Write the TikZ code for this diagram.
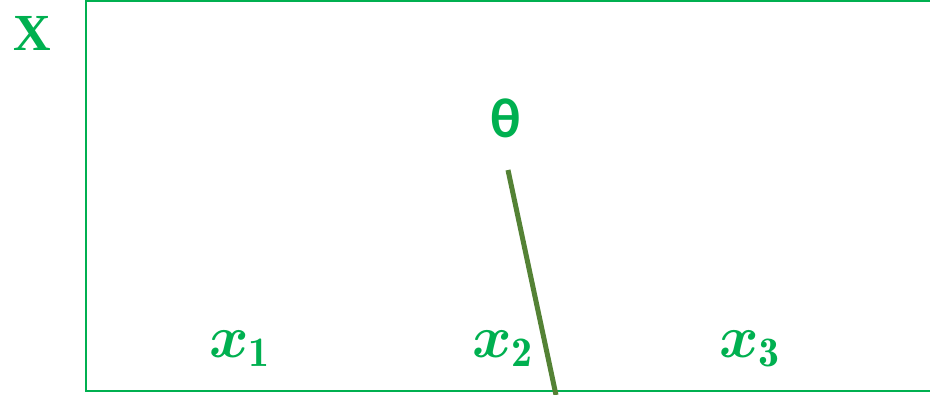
\RequirePackage{fix-cm}
\documentclass[tikz,border=0pt]{standalone}
\usepackage{amsmath,bm}
\usepackage{fontspec}
\newfontfamily\calib{Carlito}
\newfontfamily\tnr{Liberation Serif}
\definecolor{lgreen}{HTML}{00B050}
\definecolor{dgreen}{HTML}{548235}
\tikzset{
  frameline/.style={draw=lgreen, line width=2pt},
  stickline/.style={draw=dgreen, line width=5pt},
  lbl/.style={text=lgreen, inner sep=0pt},
}
\begin{document}
\begin{tikzpicture}[x=1pt,y=1pt]
\useasboundingbox (0,0) rectangle (930,-394);
\draw[frameline] (934,-1) -- (86,-1) -- (86,-391) -- (934,-391);
\coordinate (top) at (508,-170);
\coordinate (bot) at (556,-395);
\draw[stickline] (top) -- (bot);
\node[lbl] (X) at (32,-33) {\tnr\fontsize{52}{52}\selectfont\bfseries X};
\node[lbl] (theta) at (506,-118) {\calib\fontsize{56}{56}\selectfont\bfseries θ};
\node[lbl, anchor=base west] (x1) at (209,-357) {\fontsize{60}{60}\selectfont$\bm{x}_{\mathbf{1}}$};
\node[lbl, anchor=base west] (x2) at (472,-357) {\fontsize{60}{60}\selectfont$\bm{x}_{\mathbf{2}}$};
\node[lbl, anchor=base west] (x3) at (719,-357) {\fontsize{60}{60}\selectfont$\bm{x}_{\mathbf{3}}$};
\end{tikzpicture}
\end{document}
